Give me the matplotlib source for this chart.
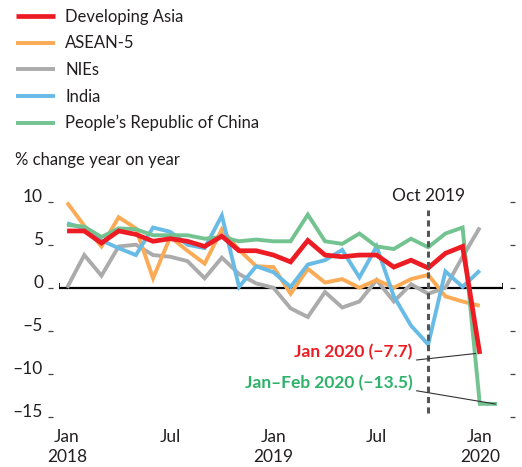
import matplotlib

matplotlib.use("Agg")
import matplotlib.pyplot as plt

plt.rcParams["font.family"] = ["Lato", "DejaVu Sans"]

# --- Data (monthly, Jan 2018 = 0) ---
asia = [6.6, 6.6, 5.2, 6.6, 6.2, 5.4, 5.7, 5.4, 4.8, 6.0, 4.3, 4.3, 3.8,
        3.0, 5.5, 3.8, 3.6, 3.8, 3.8, 2.4, 3.2, 2.3, 4.0, 4.8, -7.7]
asean5 = [9.9, 7.2, 4.8, 8.2, 6.9, 1.1, 5.9, 4.3, 2.8, 6.8, 4.4, 2.5, 2.4,
          -0.7, 2.2, 0.6, 1.0, 0.0, 0.9, 0.0, 1.0, 1.5, -1.0, -1.6, -2.1]
nies = [0.0, 3.8, 1.4, 4.8, 5.0, 3.8, 3.6, 3.1, 1.1, 3.5, 1.6, 0.5, 0.0,
        -2.4, -3.4, -0.5, -2.3, -1.6, 0.9, -1.6, 0.4, -0.7, 0.0, 3.6, 7.0]
india = [7.5, 6.9, 5.5, 4.6, 3.8, 7.0, 6.5, 5.0, 4.6, 8.4, 0.1, 2.5, 1.8,
         0.1, 2.7, 3.2, 4.4, 1.2, 4.8, -1.0, -4.4, -6.6, 1.9, 0.1, 2.0]
prc = [7.3, 7.1, 5.9, 6.9, 6.8, 6.1, 6.1, 6.1, 5.7, 5.9, 5.4, 5.6, 5.4,
       5.4, 8.5, 5.4, 5.1, 6.3, 4.8, 4.5, 5.7, 4.7, 6.3, 7.0, -13.5, -13.5]

xtick_pos = [0, 6, 12, 18, 24]
xtick_labels = ["Jan\n2018", "Jul", "Jan\n2019", "Jul", "Jan\n2020"]
yticks = [-15, -10, -5, 0, 5, 10]
ytick_labels = ["\u201315", "\u201310", "\u20135", "0", "5", "10"]
oct_2019 = 21

RED = "#ED1C24"
ORANGE = "#FBAA55"
GRAY = "#ABABAB"
BLUE = "#68BBE6"
GREEN = "#72C390"
TEXT = "#231F20"

W, H = 522, 467
fig = plt.figure(figsize=(W / 100, H / 100), dpi=100)

# axes placed in pixel terms
x0, x1 = 59, 503
y_top, y_bot = 191.4, 421.9
ax = fig.add_axes([x0 / W, 1 - y_bot / H, (x1 - x0) / W, (y_bot - y_top) / H])
ax.set_xlim(-0.47, 25.35)
ax.set_ylim(-15.6, 11.2)
ax.patch.set_alpha(0)

lw = 2.8
series = [
    (nies, GRAY, "NIEs", lw),
    (asean5, ORANGE, "ASEAN-5", lw),
    (india, BLUE, "India", lw),
    (prc, GREEN, "People\u2019s Republic of China", lw),
    (asia, RED, "Developing Asia", 3.4),
]
handles = {}
for vals, col, name, w in series:
    (h,) = ax.plot(range(len(vals)), vals, color=col, lw=w, label=name,
                   solid_joinstyle="miter", solid_capstyle="butt", zorder=3)
    handles[name] = h

# zero line with end caps
ax.axhline(0, color="black", lw=1.6, zorder=2)
ax.vlines(ax.get_xlim(), 0, 0.6, color="black", lw=1.2, zorder=2)

# Oct 2019 marker
ax.vlines(oct_2019, -14.6, 9.0, color="#555555", lw=2.2,
          linestyles=(0, (2.0, 1.4)), zorder=4)
ax.text(oct_2019, 10.66, "Oct 2019", ha="center", va="center",
        fontsize=12.5, color=TEXT)

# annotations
ax.text(20.1, -7.45, "Jan 2020 (\u22127.7)", ha="right", va="center",
        fontsize=12.5, fontweight="bold", color=RED)
ax.plot([20.33, 23.75], [-8.4, -7.65], color="#333333", lw=0.8, zorder=5)
ax.text(20.1, -11.1, "Jan\u2013Feb 2020 (\u221213.5)", ha="right",
        va="center", fontsize=12.5, fontweight="bold", color="#2EB36A")
ax.plot([20.33, 24.9], [-11.98, -13.52], color="#333333", lw=0.8, zorder=5)

# spines and ticks
for s in ["top", "bottom"]:
    ax.spines[s].set_visible(False)
ax.spines["left"].set_position(("outward", 4.3))
ax.spines["right"].set_position(("outward", 5))
ax.spines["left"].set_visible(False)
ax.spines["right"].set_visible(False)

ax.set_yticks(yticks)
ax.set_yticklabels(ytick_labels)
ax.tick_params(axis="y", which="both", left=True, right=True, length=3.6,
               width=0.9, color="#444444", pad=3.6, labelsize=12.5,
               labelcolor=TEXT)
for lbl in ax.get_yticklabels():
    lbl.set_verticalalignment("baseline")

ax.set_xticks(xtick_pos)
ax.set_xticklabels(xtick_labels, fontsize=12.5, color=TEXT, linespacing=1.35)
ax.tick_params(axis="x", length=0, pad=5)

fig.text(15 / W, 1 - 160 / H, "% change year on year", ha="left",
         va="center", fontsize=12, color=TEXT)

order = ["Developing Asia", "ASEAN-5", "NIEs", "India",
         "People\u2019s Republic of China"]
fig.legend([handles[n] for n in order], order, loc="upper left",
           bbox_to_anchor=(16 / W, 1 - 9 / H), frameon=False, fontsize=12,
           handlelength=2.35, handletextpad=0.6, labelspacing=0.63,
           borderpad=0, borderaxespad=0, labelcolor=TEXT)

fig.savefig("out.png", dpi=100)
